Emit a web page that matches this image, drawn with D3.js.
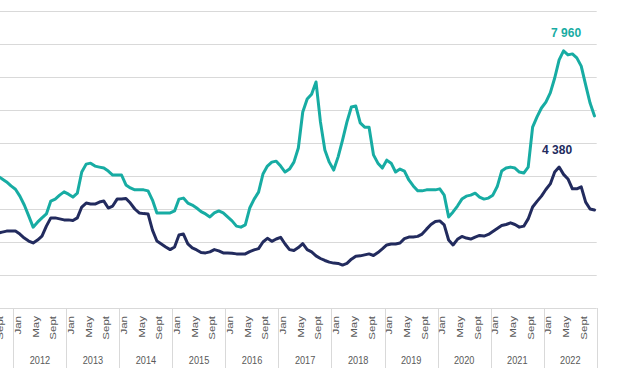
<!DOCTYPE html>
<html>
<head>
<meta charset="utf-8">
<script src="https://cdn.jsdelivr.net/npm/d3@7"></script>
<style>
  body { margin: 0; background: #fff; }
  svg { display: block; }
</style>
</head>
<body>
<div id="chart"></div>
<script>
// monthly series, Sept 2011 .. Dec 2022
var firstMonth = new Date(2011, 8, 1);
var lastMonth = new Date(2022, 11, 1);

var tealValues = [
  4000, 3910, 3820, 3700,
  3600, 3390, 3120, 2790, 2450, 2600, 2730, 2850, 3240, 3300, 3420, 3520,
  3450, 3360, 3480, 4120, 4360, 4390, 4300, 4270, 4240, 4150, 4030, 4030,
  4030, 3730, 3640, 3580, 3580, 3580, 3550, 3270, 2880, 2880, 2880, 2880,
  2940, 3300, 3330, 3180, 3120, 3030, 2920, 2850, 2760, 2880, 2940, 2880,
  2760, 2640, 2480, 2450, 2520, 3030, 3300, 3510, 4060, 4300, 4420, 4450,
  4300, 4120, 4210, 4420, 4850, 5940, 6330, 6480, 6850, 5640, 4790, 4420,
  4180, 4580, 5090, 5640, 6090, 6120, 5610, 5480, 5480, 4640, 4390, 4240,
  4480, 4390, 4120, 4210, 4150, 3880, 3700, 3550, 3550, 3580, 3580, 3580,
  3610, 3420, 2760, 2910, 3090, 3300, 3390, 3420, 3480, 3360, 3300, 3330,
  3420, 3680, 4150, 4240, 4270, 4240, 4120, 4090, 4270, 5480, 5790, 6060,
  6240, 6520, 6970, 7520, 7790, 7670, 7700, 7580, 7330, 6760, 6210, 5820
];

var navyValues = [
  2270, 2300, 2330, 2330,
  2330, 2240, 2120, 2030, 1970, 2060, 2180, 2480, 2730, 2730, 2700, 2670,
  2670, 2650, 2730, 3060, 3180, 3150, 3150, 3210, 3240, 3030, 3090, 3300,
  3300, 3320, 3180, 3000, 2880, 2860, 2850, 2360, 2030, 1940, 1850, 1770,
  1850, 2210, 2240, 1940, 1820, 1760, 1680, 1670, 1700, 1770, 1730, 1670,
  1670, 1660, 1640, 1640, 1640, 1710, 1760, 1800, 2000, 2110, 2020, 2090,
  2140, 1940, 1770, 1740, 1830, 1950, 1770, 1700, 1580, 1500, 1440, 1390,
  1360, 1350, 1300, 1350, 1480, 1570, 1580, 1610, 1640, 1590, 1680, 1790,
  1910, 1940, 1940, 1970, 2100, 2150, 2150, 2170, 2240, 2390, 2530, 2620,
  2640, 2520, 2060, 1910, 2080, 2170, 2120, 2090, 2150, 2200, 2180, 2230,
  2320, 2410, 2500, 2530, 2580, 2530, 2450, 2480, 2700, 3060, 3230, 3390,
  3590, 3760, 4120, 4270, 4050, 3910, 3610, 3610, 3670, 3210, 3000, 2970
];

var years = [2012, 2013, 2014, 2015, 2016, 2017, 2018, 2019, 2020, 2021, 2022];
var monthTickLabels = { 0: 'Jan', 4: 'May', 8: 'Sept' };
var gridValues = [0, 1000, 2000, 3000, 4000, 5000, 6000, 7000, 8000, 9000];
var peakLabels = ['7 960', '4 380'];

var colors = { teal: '#17aca3', navy: '#222b5e', grid: '#d9d9d9', text: '#595959' };

var width = 617, height = 374;
var months = d3.timeMonth.range(firstMonth, d3.timeMonth.offset(lastMonth, 1));

var svg = d3.select('#chart').append('svg')
  .attr('width', width)
  .attr('height', height);

// year of 2012 begins at x=13.3, each year ~53.3px
var yearW = 53.33;
var x0 = 13.33 - 4 * yearW / 12;
var x = d3.scaleBand()
  .domain(months)
  .range([x0, 596.7])
  .padding(0);

var y = d3.scaleLinear()
  .domain([0, 9000])
  .range([308, 11]);

var cx = function(d) { return x(d) + x.bandwidth() / 2; };

// grid
svg.append('g').selectAll('line')
  .data(gridValues).enter()
  .append('line')
  .attr('x1', 0)
  .attr('x2', 596.7)
  .attr('y1', function(d) { return Math.round(y(d)) + 0.5; })
  .attr('y2', function(d) { return Math.round(y(d)) + 0.5; })
  .attr('stroke', colors.grid)
  .attr('stroke-width', 1);

// year separators below the axis
var yearStarts = years.map(function(yr) { return new Date(yr, 0, 1); });
var sepX = yearStarts.map(function(d) { return x(d); }).concat([596.7]);
svg.append('g').selectAll('line')
  .data(sepX).enter()
  .append('line')
  .attr('x1', function(d) { return Math.round(d) + 0.5; })
  .attr('x2', function(d) { return Math.round(d) + 0.5; })
  .attr('y1', 308)
  .attr('y2', 368)
  .attr('stroke', colors.grid);

// month labels
var tickMonths = months.filter(function(d) { return monthTickLabels[d.getMonth()] !== undefined; });
svg.append('g').selectAll('text')
  .data(tickMonths).enter()
  .append('text')
  .attr('transform', function(d) { return 'translate(' + (cx(d) + 2) + ',316) scale(0.86,1) rotate(-90)'; })
  .attr('text-anchor', 'end')
  .attr('dy', '0.35em')
  .attr('font-family', 'Liberation Sans, Arial, sans-serif')
  .attr('font-size', '11.5px')
  .attr('fill', colors.text)
  .text(function(d) { return monthTickLabels[d.getMonth()]; });

// year labels
svg.append('g').selectAll('text')
  .data(years).enter()
  .append('text')
  .attr('transform', function(d) {
    var mid = x(new Date(d, 0, 1)) + yearW / 2;
    return 'translate(' + mid + ',364) scale(0.8,1)';
  })
  .attr('text-anchor', 'middle')
  .attr('font-family', 'Liberation Sans, Arial, sans-serif')
  .attr('font-size', '11.5px')
  .attr('fill', colors.text)
  .text(function(d) { return d; });

// lines
var series = [
  { name: 'teal', values: tealValues, color: colors.teal, label: peakLabels[0] },
  { name: 'navy', values: navyValues, color: colors.navy, label: peakLabels[1] }
];

var line = d3.line()
  .x(function(d, i) { return cx(months[i]); })
  .y(function(d) { return y(d); });

svg.append('g').selectAll('path')
  .data(series).enter()
  .append('path')
  .attr('d', function(s) { return line(s.values); })
  .attr('fill', 'none')
  .attr('stroke', function(s) { return s.color; })
  .attr('stroke-width', 3)
  .attr('stroke-linejoin', 'round')
  .attr('stroke-linecap', 'round');

// peak labels
svg.append('g').selectAll('text')
  .data(series).enter()
  .append('text')
  .attr('x', function(s) {
    var i = d3.maxIndex(s.values);
    return cx(months[i]) + (s.name === 'teal' ? 2.5 : -2);
  })
  .attr('y', function(s) { return y(d3.max(s.values)) - 13.5; })
  .attr('text-anchor', 'middle')
  .attr('font-family', 'Liberation Sans, Arial, sans-serif')
  .attr('font-weight', 'bold')
  .attr('font-size', '12px')
  .attr('fill', function(s) { return s.color; })
  .text(function(s) { return s.label; });
</script>
</body>
</html>
